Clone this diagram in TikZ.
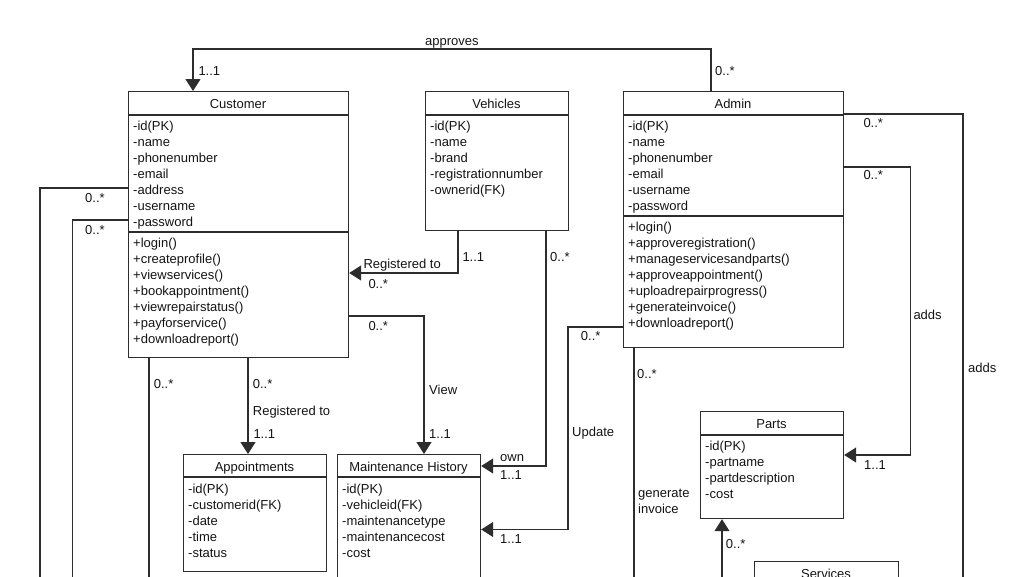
\documentclass[tikz,border=0pt]{standalone}
\usepackage{fontspec}
\setmainfont{Liberation Sans}
\usetikzlibrary{arrows.meta}
\definecolor{lc}{RGB}{45,45,45}
\definecolor{tc}{RGB}{20,20,20}
\newcommand\fs{\fontsize{13}{16}\selectfont}
\tikzset{
  cls/.style={draw=lc, line width=1.2pt, inner sep=0pt, anchor=north west},
  ln/.style={draw=lc, line width=1.2pt},
  arr/.style={ln, -{Triangle[width=15pt,length=12pt]}},
  txt/.style={inner sep=0pt, anchor=base west, font=\fs, text=tc},
  ttl/.style={inner sep=0pt, anchor=base, font=\fs, text=tc},
}
\newcommand\attrs[4]{%
  \foreach \t [count=\i] in {#4} {\node[txt] (#1\i) at (#2, {#3+16*(\i-1)}) {\t};}}
\begin{document}
\begin{tikzpicture}[x=1pt,y=-1pt]
\useasboundingbox (0,0) rectangle (1024,576);
\fill[white] (0,0) rectangle (1024,576);
\begin{scope}
\clip (0,0) rectangle (1024,576);
% class boxes
\node[cls, minimum width=220pt, minimum height=266pt] (cust) at (128,91) {};
\node[cls, minimum width=143pt, minimum height=139pt] (veh) at (425,91) {};
\node[cls, minimum width=220pt, minimum height=256pt] (admin) at (623,91) {};
\node[cls, minimum width=143pt, minimum height=117pt] (appt) at (183,454) {};
\node[cls, minimum width=143pt, minimum height=140pt] (mh) at (337,454) {};
\node[cls, minimum width=143pt, minimum height=107pt] (parts) at (700,411) {};
\node[cls, minimum width=144pt, minimum height=60pt] (serv) at (754,561) {};
% separators
\draw[ln] ([yshift=-24pt]cust.north west) -- ([yshift=-24pt]cust.north east);
\draw[ln] ([yshift=-141pt]cust.north west) -- ([yshift=-141pt]cust.north east);
\draw[ln] ([yshift=-24pt]veh.north west) -- ([yshift=-24pt]veh.north east);
\draw[ln] ([yshift=-24pt]admin.north west) -- ([yshift=-24pt]admin.north east);
\draw[ln] ([yshift=-125pt]admin.north west) -- ([yshift=-125pt]admin.north east);
\draw[ln] ([yshift=-23pt]appt.north west) -- ([yshift=-23pt]appt.north east);
\draw[ln] ([yshift=-23pt]mh.north west) -- ([yshift=-23pt]mh.north east);
\draw[ln] ([yshift=-24pt]parts.north west) -- ([yshift=-24pt]parts.north east);
% titles
\node[ttl] (custT) at (238,108.5) {Customer};
\node[ttl] (vehT) at (496.5,108.5) {Vehicles};
\node[ttl] (adminT) at (733,108.5) {Admin};
\node[ttl] (apptT) at (254.5,471.5) {Appointments};
\node[ttl] (mhT) at (408.5,471.5) {Maintenance History};
\node[ttl] (partsT) at (771.5,428.5) {Parts};
\node[ttl] (servT) at (826,578) {Services};
% members
\attrs{ca}{133}{130.5}{-id(PK),-name,-phonenumber,-email,-address,-username,-password}
\attrs{cm}{133}{247.5}{+login(),+createprofile(),+viewservices(),+bookappointment(),+viewrepairstatus(),+payforservice(),+downloadreport()}
\attrs{va}{430}{130.5}{-id(PK),-name,-brand,-registrationnumber,-ownerid(FK)}
\attrs{aa}{628}{130.5}{-id(PK),-name,-phonenumber,-email,-username,-password}
\attrs{am}{628}{231.5}{+login(),+approveregistration(),+manageservicesandparts(),+approveappointment(),+uploadrepairprogress(),+generateinvoice(),+downloadreport()}
\attrs{pa}{188}{493}{-id(PK),-customerid(FK),-date,-time,-status}
\attrs{ma}{342}{493}{-id(PK),-vehicleid(FK),-maintenancetype,-maintenancecost,-cost}
\attrs{ra}{705}{450.5}{-id(PK),-partname,-partdescription,-cost}
% free ends below the picture
\coordinate (e1) at (40,600);
\coordinate (e2) at (72.7,600);
\coordinate (e3) at (149,600);
\coordinate (e4) at (634,600);
\coordinate (e5) at (722,600);
\coordinate (e6) at (963,600);
% connectors
\draw[arr] ([xshift=88pt]admin.north west) -- ++(0,-42) -| ([xshift=65pt]cust.north west);
\draw[arr] ([xshift=33pt]veh.south west) |- ([yshift=-182pt]cust.north east);
\draw[arr] ([yshift=-225pt]cust.north east) -| ([xshift=87pt]mh.north west);
\draw[arr] ([xshift=121pt]veh.south west) |- ([yshift=-12pt]mh.north east);
\draw[arr] ([yshift=-236pt]admin.north west) -- ++(-55,0) |- ([yshift=-75.5pt]mh.north east);
\draw[arr] ([xshift=120pt]cust.south west) -- ([xshift=65pt]appt.north west);
\draw[ln] ([xshift=21pt]cust.south west) -- (e3);
\draw[ln] ([yshift=-97pt]cust.north west) -| (e1);
\draw[ln] ([yshift=-129pt]cust.north west) -| (e2);
\draw[arr] ([yshift=-76pt]admin.north east) -- ++(66,0) |- ([yshift=-44pt]parts.north east);
\draw[ln] ([yshift=-23pt]admin.north east) -| (e6);
\draw[ln] ([xshift=11pt]admin.south west) -- (e4);
\draw[arr] (e5) -- ([xshift=22pt]parts.south west);
% labels
\node[txt] (l1) at (425,45) {approves};
\node[txt] (l2) at (198.3,75) {1..1};
\node[txt] (l3) at (715,75) {0..*};
\node[txt] (l4) at (85,202) {0..*};
\node[txt] (l5) at (85,234) {0..*};
\node[txt] (l6) at (363.3,268.5) {Registered to};
\node[txt] (l7) at (368.3,288) {0..*};
\node[txt] (l8) at (462.3,261) {1..1};
\node[txt] (l9) at (550,261) {0..*};
\node[txt] (l10) at (368.3,330) {0..*};
\node[txt] (l11) at (580.7,340.5) {0..*};
\node[txt] (l12) at (153.7,388) {0..*};
\node[txt] (l13) at (252.7,388) {0..*};
\node[txt] (l14) at (252.7,415.5) {Registered to};
\node[txt] (l15) at (253.3,438) {1..1};
\node[txt] (l16) at (429,394) {View};
\node[txt] (l17) at (429,438) {1..1};
\node[txt] (l18) at (500,461) {own};
\node[txt] (l19) at (500,479) {1..1};
\node[txt] (l20) at (572,436.5) {Update};
\node[txt] (l21) at (500,543.5) {1..1};
\node[txt] (l22) at (637,378) {0..*};
\node[txt] (l23) at (638,497.5) {generate};
\node[txt] (l24) at (638,513) {invoice};
\node[txt] (l25) at (725.7,548) {0..*};
\node[txt] (l26) at (864,469) {1..1};
\node[txt] (l27) at (863.3,127) {0..*};
\node[txt] (l28) at (863.3,179.5) {0..*};
\node[txt] (l29) at (913.3,319) {adds};
\node[txt] (l30) at (968,372.5) {adds};
\end{scope}
\end{tikzpicture}
\end{document}
